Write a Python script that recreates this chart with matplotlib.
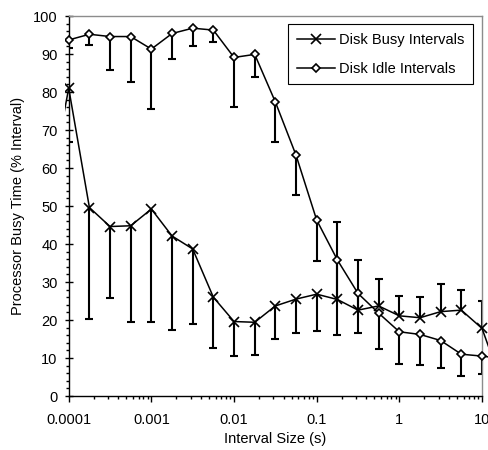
import numpy as np
import matplotlib
matplotlib.use('Agg')
import matplotlib.pyplot as plt
from matplotlib.ticker import FixedLocator, MultipleLocator, FuncFormatter, NullFormatter
from matplotlib.transforms import Bbox

plt.rcParams['font.family'] = ['Liberation Sans', 'DejaVu Sans']
plt.rcParams['font.size'] = 10.5

# interval sizes (s), quarter decades; the first and last lie just off the axis
interval_size = [0.0000562, 0.0001, 0.000178, 0.000316, 0.000562,
                 0.001, 0.00178, 0.00316, 0.00562,
                 0.01, 0.0178, 0.0316, 0.0562,
                 0.1, 0.178, 0.316, 0.562,
                 1, 1.78, 3.16, 5.62, 10, 17.8]

nan = np.nan

# processor busy time (% of interval) during disk busy intervals
busy_time = [52, 81.0, 49.6, 44.6, 44.8, 49.2, 42.1, 38.7, 26.0, 19.6, 19.4,
             23.7, 25.5, 26.8, 25.4, 22.6, 23.7, 21.1, 20.6, 22.2, 22.6, 17.8, 2.6]
busy_bar_end = [nan, 66.9, 20.2, 25.9, 19.6, 19.4, 17.5, 18.9, 12.7, 10.5, 10.8,
                14.9, 16.5, 17.2, 45.7, 35.7, 30.8, 26.3, 26.1, 29.4, 27.9, 25.0, nan]

# processor busy time during disk idle intervals
idle_time = [nan, 93.7, 95.2, 94.6, 94.6, 91.3, 95.4, 96.8, 96.3, 89.1, 89.9,
             77.4, 63.4, 46.3, 35.8, 27.0, 21.8, 16.9, 16.2, 14.6, 11.0, 10.5, 9.8]
idle_bar_end = [nan, 91.5, 92.3, 85.7, 82.7, 75.5, 88.6, 92.0, 93.2, 76.0, 83.9,
                66.9, 53.0, 35.5, 16.1, 16.5, 12.5, 8.4, 8.2, 7.3, 5.3, 5.8, nan]

x_ticks = [0.0001, 0.001, 0.01, 0.1, 1, 10]

fig = plt.figure(figsize=(4.89, 4.5), dpi=100)
ax = fig.add_axes([0.1405, 0.12, 0.8452, 0.8444])
ax.set_xscale('log')
ax.set_xlim(0.0001, 10)
ax.set_ylim(0, 100)

# lines are allowed to run a little past the plot edges
clip = Bbox([[64.5, 54], [489, 434]])


def draw_series(vals, ends, marker, ms, label):
    x = np.array(interval_size)
    v = np.array(vals, dtype=float)
    e = np.array(ends, dtype=float)
    ok = ~np.isnan(e)
    ax.vlines(x[ok], v[ok], e[ok], colors='k', lw=1.5, zorder=2)
    ax.plot(x[ok], e[ok], ls='none', marker='_', ms=6, mew=1.5, color='k', zorder=2)
    line, = ax.plot(x, v, color='k', lw=1.1, zorder=3)
    line.set_clip_box(clip)
    pts, = ax.plot(x, v, ls='none', marker=marker, ms=ms, mfc='white', mec='k',
                   mew=1.2, zorder=4)
    pts.set_clip_box(clip)
    # proxy for the legend
    ax.plot([], [], color='k', lw=1.1, marker=marker, ms=ms, mfc='white', mec='k',
            mew=1.2, label=label)


draw_series(busy_time, busy_bar_end, 'x', 6.5, 'Disk Busy Intervals')
draw_series(idle_time, idle_bar_end, 'D', 4.3, 'Disk Idle Intervals')

ax.xaxis.set_major_locator(FixedLocator(x_ticks))
ax.xaxis.set_major_formatter(FuncFormatter(lambda v, p: '%g' % v))
ax.xaxis.set_minor_formatter(NullFormatter())
ax.yaxis.set_major_locator(MultipleLocator(10))
ax.yaxis.set_minor_locator(MultipleLocator(2))

ax.tick_params(axis='x', which='major', direction='out', length=4, width=1, pad=8.5)
ax.tick_params(axis='x', which='minor', direction='out', length=2.5, width=1)
ax.tick_params(axis='y', which='major', direction='inout', length=6, width=1, pad=5)
ax.tick_params(axis='y', which='minor', direction='out', length=2.5, width=1)

for side in ('top', 'right'):
    ax.spines[side].set_color('#8c8c8c')
    ax.spines[side].set_linewidth(1.0)
for side in ('left', 'bottom'):
    ax.spines[side].set_color('k')
    ax.spines[side].set_linewidth(1.0)

ax.set_xlabel('Interval Size (s)', labelpad=3.5)
ax.set_ylabel('Processor Busy Time (% Interval)', labelpad=6)

leg = ax.legend(loc='upper right', bbox_to_anchor=(0.978, 0.978), borderaxespad=0,
                numpoints=1, handlelength=2.6, handletextpad=0.25, labelspacing=1.0,
                borderpad=0.6, fancybox=False, framealpha=1, edgecolor='k')
leg.get_frame().set_linewidth(0.8)

fig.savefig('out.png', dpi=100)
